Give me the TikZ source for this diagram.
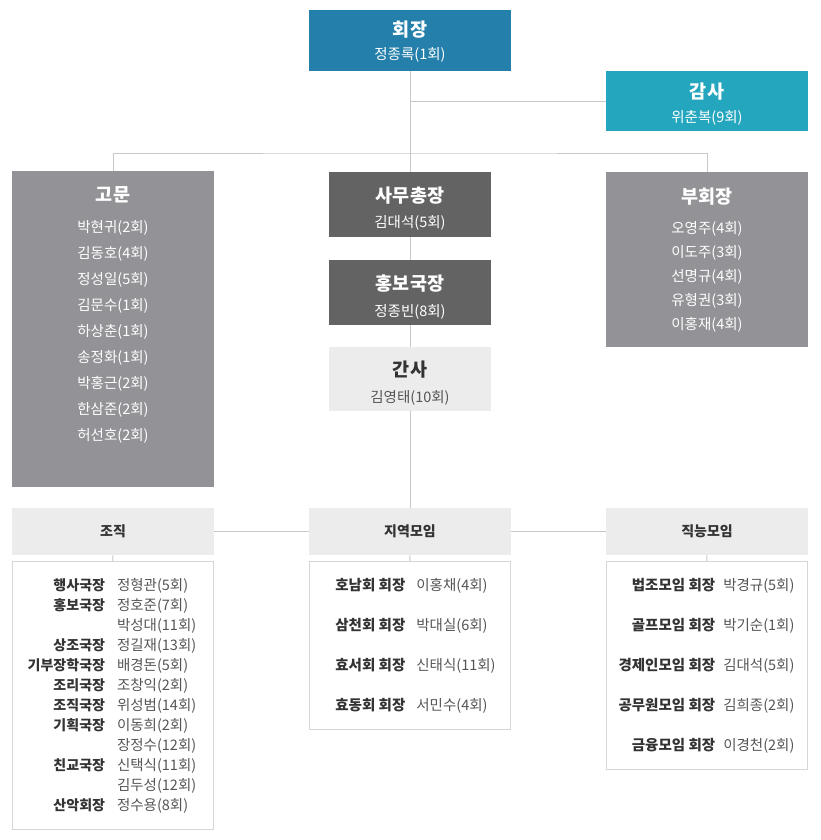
\documentclass[tikz,border=0pt]{standalone}
\usepackage{fontspec}
\setmainfont{Noto Sans CJK KR}
\usepackage{xcolor}
\usepackage{array}
\usetikzlibrary{positioning}

\definecolor{chairblue}{RGB}{36,127,170}
\definecolor{auditcyan}{RGB}{37,166,191}
\definecolor{midgray}{RGB}{146,146,151}
\definecolor{boxdark}{RGB}{99,99,99}
\definecolor{palegray}{RGB}{236,236,236}
\definecolor{wirec}{RGB}{200,200,200}
\definecolor{framec}{RGB}{214,214,214}
\definecolor{inkdark}{RGB}{51,51,51}
\definecolor{inkmid}{RGB}{85,85,85}

\newcommand\headtxt[1]{{\fontsize{18.5}{26}\selectfont\bfseries #1}}

\begin{document}
\begin{tikzpicture}[x=1pt, y=-1pt,
  card/.style={anchor=north, inner sep=0pt, minimum width=202pt, align=center,
    text=white, font=\fontsize{14.5}{25.5}\selectfont},
  hdr/.style={anchor=north, inner sep=0pt, minimum width=202pt, fill=palegray,
    text=inkdark, text height=28pt, text depth=19pt,
    font=\fontsize{14}{17}\selectfont\bfseries},
  lst/.style={anchor=north, inner sep=0pt, minimum width=201pt, draw=framec,
    line width=0.8pt, text height=29pt},
  wire/.style={draw=wirec, line width=1pt}]
\useasboundingbox (0,0) rectangle (820,840);

% top of the chart
\node[card, fill=chairblue, text height=49.1pt, text depth=11.9pt] (hj) at (410,10)
  {\headtxt{회장}\\[-3pt]정종록(1회)};
\node[card, fill=auditcyan, text height=50.9pt, text depth=9.1pt] (ga) at (707,71)
  {\headtxt{감사}\\[-2pt]위춘복(9회)};

% middle row
\node[card, fill=midgray, text height=269pt, text depth=47pt,
  font=\fontsize{14.5}{26}\selectfont] (gm) at (113,171)
  {\headtxt{고문}\\[4.4pt]박현귀(2회)\\김동호(4회)\\정성일(5회)\\김문수(1회)\\하상춘(1회)\\
   송정화(1회)\\박홍근(2회)\\한삼준(2회)\\허선호(2회)};
\node[card, minimum width=162pt, fill=boxdark, text height=55.6pt, text depth=9.4pt] (sm) at (410,172)
  {\headtxt{사무총장}\\김대석(5회)};
\node[card, minimum width=162pt, fill=boxdark, text height=55.9pt, text depth=9.1pt] (hb) at (410,260)
  {\headtxt{홍보국장}\\정종빈(8회)};
\node[card, minimum width=162pt, fill=palegray, text=inkdark, text height=54.9pt, text depth=9.1pt] (gs) at (410,347)
  {\headtxt{간사}\\{\color{inkmid}김영태(10회)}};
\node[card, fill=midgray, text height=157pt, text depth=18pt,
  font=\fontsize{14.5}{24}\selectfont] (bh) at (707,172)
  {\headtxt{부회장}\\[5.7pt]오영주(4회)\\이도주(3회)\\선명규(4회)\\유형권(3회)\\이홍재(4회)};

% group headers
\node[hdr] (jo) at (113,508) {조직};
\node[hdr] (jy) at (410,508) {지역모임};
\node[hdr] (jn) at (707,508) {직능모임};

% group lists
\node[lst, text depth=239pt, font=\fontsize{14.5}{20}\selectfont] (jol) at (112.5,561)
  {\begin{tabular}[t]{@{}>{\fontsize{14}{20}\selectfont\bfseries\color{inkdark}}r@{\hspace{12pt}}>{\color{inkmid}}l@{\hspace{1pt}}}
   행사국장 & 정형관(5회)\\
   홍보국장 & 정호준(7회)\\
            & 박성대(11회)\\
   상조국장 & 정길재(13회)\\
   기부장학국장 & 배경돈(5회)\\
   조리국장 & 조창익(2회)\\
   조직국장 & 위성범(14회)\\
   기획국장 & 이동희(2회)\\
            & 장정수(12회)\\
   친교국장 & 신택식(11회)\\
            & 김두성(12회)\\
   산악회장 & 정수용(8회)
   \end{tabular}};
\node[lst, text depth=139pt, font=\fontsize{14.5}{40}\selectfont] (jyl) at (409.5,561)
  {\begin{tabular}[t]{@{\hspace{12pt}}>{\fontsize{14.5}{40}\selectfont\bfseries\color{inkdark}}r@{\hspace{11pt}}>{\color{inkmid}}l@{}}
   호남회 회장 & 이홍채(4회)\\
   삼천회 회장 & 박대실(6회)\\
   효서회 회장 & 신태식(11회)\\
   효동회 회장 & 서민수(4회)
   \end{tabular}};
\node[lst, text depth=179pt, font=\fontsize{14.5}{40}\selectfont] (jnl) at (706.5,561)
  {\begin{tabular}[t]{@{}>{\fontsize{14.5}{40}\selectfont\bfseries\color{inkdark}}r@{\hspace{8pt}}>{\color{inkmid}}l@{}}
   법조모임 회장 & 박경규(5회)\\
   골프모임 회장 & 박기순(1회)\\
   경제인모임 회장 & 김대석(5회)\\
   공무원모임 회장 & 김희종(2회)\\
   금융모임 회장 & 이경천(2회)
   \end{tabular}};

% connectors
\coordinate (split) at (410,153);
\draw[wire] (hj.south) -- (sm.north);
\draw[wire] (ga.west) -- (ga.west -| hj.south);
\draw[wire] (gm.north) |- (split) -| (bh.north);
\draw[wire] (sm) -- (hb);
\draw[wire] (hb) -- (gs);
\draw[wire] (gs) -- (jy);
\draw[wire] (jo) -- (jy);
\draw[wire] (jy) -- (jn);
\draw[wire] (jo) -- (jol);
\draw[wire] (jy) -- (jyl);
\draw[wire] (jn) -- (jnl);
\end{tikzpicture}
\end{document}
